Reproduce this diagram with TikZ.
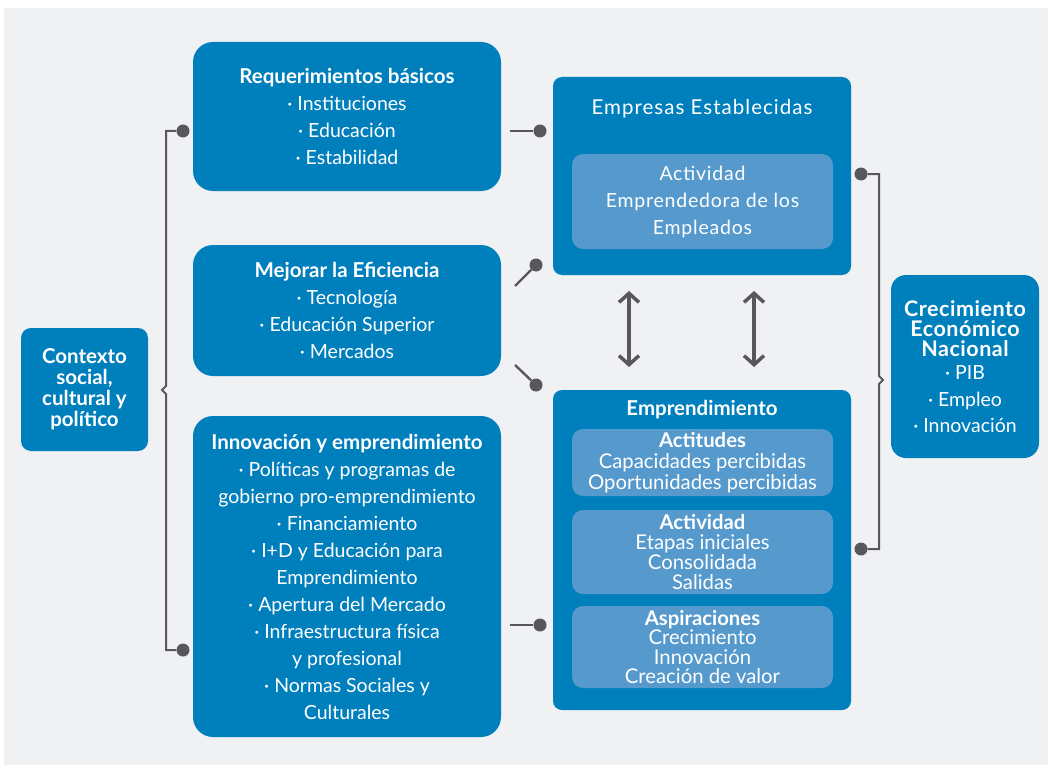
\documentclass[tikz,border=0pt]{standalone}
\usepackage{fontspec}
\setmainfont{Lato}
\usetikzlibrary{arrows.meta}
\definecolor{bgc}{HTML}{F0F1F3}
\definecolor{boxc}{HTML}{007FBD}
\definecolor{innc}{HTML}{5599CD}
\definecolor{linec}{HTML}{58585A}
\newcommand{\bxttl}[1]{{\bfseries\fontsize{20.5}{27}\selectfont #1}}
\newcommand{\crttl}[1]{{\bfseries\fontsize{21.5}{20.5}\selectfont\addfontfeature{LetterSpace=2.5}#1}}
\tikzset{
  bigbox/.style={fill=boxc, rounded corners=20pt, text=white, align=center, inner sep=0pt, font=\fontsize{19.5}{27}\selectfont},
  sqbox/.style={fill=boxc, rounded corners=9pt, text=white, align=center, inner sep=0pt},
  innbox/.style={fill=innc, rounded corners=11pt, text=white, align=center, inner sep=0pt, font=\fontsize{20.3}{21}\selectfont},
  dotc/.style={circle, fill=linec, inner sep=0pt, minimum size=13pt},
  conn/.style={draw=linec, line width=2.4pt},
  dblarrow/.style={draw=linec, line width=3.5pt, {Straight Barb[length=9pt,width=20pt,line width=3.5pt]}-{Straight Barb[length=9pt,width=20pt,line width=3.5pt]}},
  ttl/.style={text=white, align=center, inner sep=0pt}
}
\begin{document}
\begin{tikzpicture}[x=1pt,y=-1pt]
\useasboundingbox (0,0) rectangle (1052,765);
\fill[white] (0,0) rectangle (1052,765);
\fill[bgc] (4,8) rectangle (1048,765);

% left boxes
\node[bigbox, minimum width=308pt, minimum height=149pt] (req) at (347,116.5)
  {\bxttl{Requerimientos básicos}\\· Instituciones\\· Educación\\· Estabilidad};
\node[bigbox, minimum width=308pt, minimum height=131pt] (mej) at (347,310.5)
  {\bxttl{Mejorar la Eficiencia}\\· Tecnología\\· Educación Superior\\· Mercados};
\node[bigbox, minimum width=308pt, minimum height=321pt] (inn) at (347,576.5)
  {\bxttl{Innovación y emprendimiento}\\· Políticas y programas de\\gobierno pro-emprendimiento\\· Financiamiento\\· I+D y Educación para\\Emprendimiento\\· Apertura del Mercado\\· Infraestructura física\\y profesional\\· Normas Sociales y\\Culturales};

% context
\node[sqbox, rounded corners=10pt, minimum width=127pt, minimum height=123pt, font=\bfseries\fontsize{20.5}{21}\selectfont] (ctx) at (84.5,389.5)
  {Contexto\\social,\\cultural y\\político};

% established companies
\node[sqbox, minimum width=298pt, minimum height=198pt] (emp) at (702,176) {};
\node[ttl, font=\fontsize{20.5}{22}\selectfont\addfontfeature{LetterSpace=5}] (empt) at (702,109) {Empresas Establecidas};
\node[innbox, minimum width=261pt, minimum height=95pt, font=\fontsize{19.5}{27}\selectfont\addfontfeature{LetterSpace=4}] (empin) at (702.5,201.5)
  {Actividad\\Emprendedora de los\\Empleados};

% entrepreneurship
\node[sqbox, minimum width=298pt, minimum height=320pt] (ent) at (702,550) {};
\node[ttl, font=\bfseries\fontsize{20.5}{22}\selectfont] (entt) at (702,410) {Emprendimiento};
\node[innbox, minimum width=261pt, minimum height=67pt] (act) at (702.5,462.5)
  {{\bfseries Actitudes}\\Capacidades percibidas\\Oportunidades percibidas};
\node[innbox, minimum width=261pt, minimum height=84pt, font=\fontsize{20.3}{20}\selectfont] (acv) at (702.5,552)
  {{\bfseries Actividad}\\Etapas iniciales\\Consolidada\\Salidas};
\node[innbox, minimum width=261pt, minimum height=82pt, font=\fontsize{20.3}{19.3}\selectfont] (asp) at (702.5,647)
  {{\bfseries Aspiraciones}\\Crecimiento\\Innovación\\Creación de valor};

% growth
\node[sqbox, rounded corners=15pt, minimum width=148pt, minimum height=183pt, font=\fontsize{19.5}{26.5}\selectfont] (cre) at (965,366.5)
  {\crttl{Crecimiento}\\[-6.5pt]\crttl{Económico}\\[-6.5pt]\crttl{Nacional}\\[-3pt]· PIB\\· Empleo\\· Innovación};

% left bracket
\node[dotc] (dl1) at (183,131) {};
\node[dotc] (dl2) at (183,650) {};
\coordinate (lb1) at (166,131);
\coordinate (lb2) at (166,650);
\draw[conn, line width=2pt] (dl1) -- (lb1) -- (166,386) -- (162,390) -- (166,394) -- (lb2) -- (dl2);

% right bracket
\node[dotc] (dr1) at (861,174) {};
\node[dotc] (dr2) at (861,549) {};
\coordinate (rb1) at (879,174);
\coordinate (rb2) at (879,549);
\draw[conn, line width=2pt] (dr1) -- (rb1) -- (879,376) -- (883,380) -- (879,384) -- (rb2) -- (dr2);

% short connectors
\node[dotc] (da) at (540,131) {};
\coordinate (ca) at (510,131);
\draw[conn] (ca) -- (da);
\node[dotc] (db) at (540,625) {};
\coordinate (cb) at (510,625);
\draw[conn] (cb) -- (db);
\node[dotc] (dc) at (536,265) {};
\coordinate (cc) at (515,286);
\draw[conn] (cc) -- (dc);
\node[dotc] (dd) at (536,385) {};
\coordinate (cd) at (515,365);
\draw[conn] (cd) -- (dd);

% double arrows
\coordinate (a1t) at (629,291);
\coordinate (a1b) at (629,367);
\draw[dblarrow] (a1t) -- (a1b);
\coordinate (a2t) at (754,291);
\coordinate (a2b) at (754,367);
\draw[dblarrow] (a2t) -- (a2b);
\end{tikzpicture}
\end{document}
